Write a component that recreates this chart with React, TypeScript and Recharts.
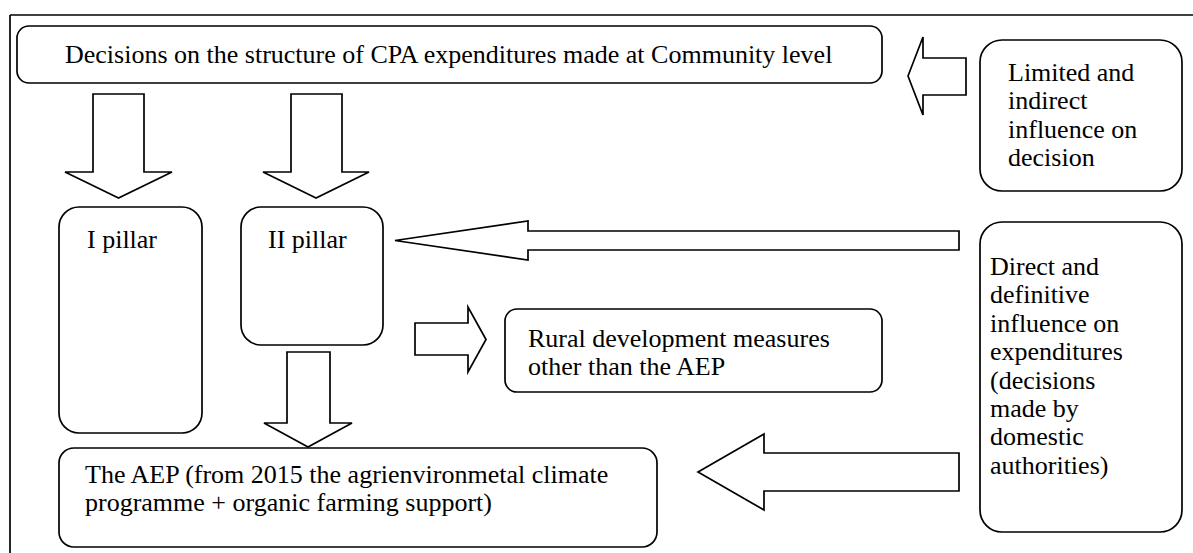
import { ComposedChart, XAxis, YAxis, Scatter, ReferenceArea, ReferenceLine } from 'recharts';

const W = 1193;
const H = 553;
const INK = '#000';
const FONT = 'Liberation Serif, Times New Roman, Times, DejaVu Serif, serif';

// rounded boxes (diagram coordinates)
const boxes = [
  { id: 'community', x1: 17, x2: 882, y1: 26, y2: 83, r: 12 },
  { id: 'limited', x1: 980, x2: 1182, y1: 40, y2: 191, r: 22 },
  { id: 'pillar1', x1: 59, x2: 202, y1: 207, y2: 433, r: 20 },
  { id: 'pillar2', x1: 241, x2: 383, y1: 207, y2: 345, r: 20 },
  { id: 'rural', x1: 505, x2: 882, y1: 309, y2: 392, r: 12 },
  { id: 'direct', x1: 980, x2: 1182, y1: 222, y2: 532, r: 22 },
  { id: 'aep', x1: 59, x2: 657, y1: 448, y2: 547, r: 15 },
];

// block arrows: bounding box, direction, shaft edges (across) and head base (along)
const arrows = [
  { id: 'limitedToTop', dir: 'left', x1: 908, x2: 966, y1: 37, y2: 115, s1: 58, s2: 95, neck: 923 },
  { id: 'topToP1', dir: 'down', x1: 65, x2: 172, y1: 94, y2: 198, s1: 93, s2: 144, neck: 172 },
  { id: 'topToP2', dir: 'down', x1: 263, x2: 369, y1: 94, y2: 198, s1: 291, s2: 342, neck: 172 },
  { id: 'directToP2', dir: 'left', x1: 395, x2: 959, y1: 221, y2: 260, s1: 231, s2: 250, neck: 528 },
  { id: 'p2ToRural', dir: 'right', x1: 415, x2: 486, y1: 307, y2: 372, s1: 323, s2: 355, neck: 468 },
  { id: 'p2ToAep', dir: 'down', x1: 264, x2: 352, y1: 352, y2: 447, s1: 287, s2: 330, neck: 423 },
  { id: 'directToAep', dir: 'left', x1: 698, x2: 959, y1: 434, y2: 510, s1: 453, s2: 491, neck: 764 },
];

// text blocks: first baseline start
const labels = [
  { id: 'community', x: 65, y: 63, lines: ['Decisions on the structure of CPA expenditures made at Community level'] },
  { id: 'limited', x: 1008, y: 81, lines: ['Limited and', 'indirect', 'influence on', 'decision'] },
  { id: 'pillar1', x: 87, y: 248, lines: ['I pillar'] },
  { id: 'pillar2', x: 268, y: 248, lines: ['II pillar'] },
  { id: 'rural', x: 528, y: 347, lines: ['Rural development measures', 'other than the AEP'] },
  {
    id: 'direct',
    x: 990,
    y: 275,
    lines: ['Direct and', 'definitive', 'influence on', 'expenditures', '(decisions', 'made by', 'domestic', 'authorities)'],
  },
  { id: 'aep', x: 85, y: 483, lines: ['The AEP (from 2015 the agrienvironmetal climate', 'programme + organic farming support)'] },
];

const LINE_H = 28.4;

function RoundBox(props: any) {
  const { x, y, width, height, r } = props;
  return <rect x={x} y={y} width={width} height={height} rx={r} ry={r} fill="#fff" stroke={INK} strokeWidth={1.7} />;
}

function BlockArrow(props: any) {
  const { x, y, width, height, a } = props;
  let pts: number[][] = [];
  if (a.dir === 'left' || a.dir === 'right') {
    const t1 = y + ((a.s1 - a.y1) / (a.y2 - a.y1)) * height;
    const t2 = y + ((a.s2 - a.y1) / (a.y2 - a.y1)) * height;
    const nx = x + ((a.neck - a.x1) / (a.x2 - a.x1)) * width;
    const mid = y + height / 2;
    if (a.dir === 'left') {
      pts = [[x, mid], [nx, y], [nx, t1], [x + width, t1], [x + width, t2], [nx, t2], [nx, y + height]];
    } else {
      pts = [[x + width, mid], [nx, y], [nx, t1], [x, t1], [x, t2], [nx, t2], [nx, y + height]];
    }
  } else {
    const t1 = x + ((a.s1 - a.x1) / (a.x2 - a.x1)) * width;
    const t2 = x + ((a.s2 - a.x1) / (a.x2 - a.x1)) * width;
    const ny = y + ((a.neck - a.y1) / (a.y2 - a.y1)) * height;
    const mid = x + width / 2;
    pts = [[mid, y + height], [x, ny], [t1, ny], [t1, y], [t2, y], [t2, ny], [x + width, ny]];
  }
  return <polygon points={pts.map((p) => p.join(',')).join(' ')} fill="#fff" stroke={INK} strokeWidth={1.7} strokeLinejoin="miter" />;
}

function TextBlock(props: any) {
  const { cx, cy, payload } = props;
  return (
    <text x={cx} y={cy} style={{ fontFamily: FONT, fontSize: 26 }} fill={INK}>
      {payload.lines.map((line: string, i: number) => (
        <tspan key={i} x={cx} dy={i === 0 ? 0 : LINE_H}>
          {line}
        </tspan>
      ))}
    </text>
  );
}

export default function App() {
  return (
    <div style={{ position: 'absolute', left: 0, top: 0, width: W, height: H, background: '#fff', fontFamily: FONT }}>
      <ComposedChart width={W} height={H} data={labels} margin={{ top: 0, right: 0, bottom: 0, left: 0 }}>
        <XAxis type="number" dataKey="x" domain={[0, W]} hide allowDataOverflow />
        <YAxis type="number" dataKey="y" domain={[0, H]} hide reversed allowDataOverflow />
        <ReferenceLine segment={[{ x: 10, y: 15 }, { x: 10, y: H }]} stroke={INK} strokeWidth={1.7} ifOverflow="visible" />
        <ReferenceLine segment={[{ x: 10, y: 15 }, { x: W, y: 15 }]} stroke={INK} strokeWidth={1.7} ifOverflow="visible" />
        {arrows.map((a) => (
          <ReferenceArea
            key={a.id}
            x1={a.x1}
            x2={a.x2}
            y1={a.y1}
            y2={a.y2}
            ifOverflow="visible"
            shape={(p: any) => <BlockArrow {...p} a={a} />}
          />
        ))}
        {boxes.map((b) => (
          <ReferenceArea
            key={b.id}
            x1={b.x1}
            x2={b.x2}
            y1={b.y1}
            y2={b.y2}
            ifOverflow="visible"
            shape={(p: any) => <RoundBox {...p} r={b.r} />}
          />
        ))}
        <Scatter data={labels} dataKey="y" shape={TextBlock} isAnimationActive={false} />
      </ComposedChart>
    </div>
  );
}
